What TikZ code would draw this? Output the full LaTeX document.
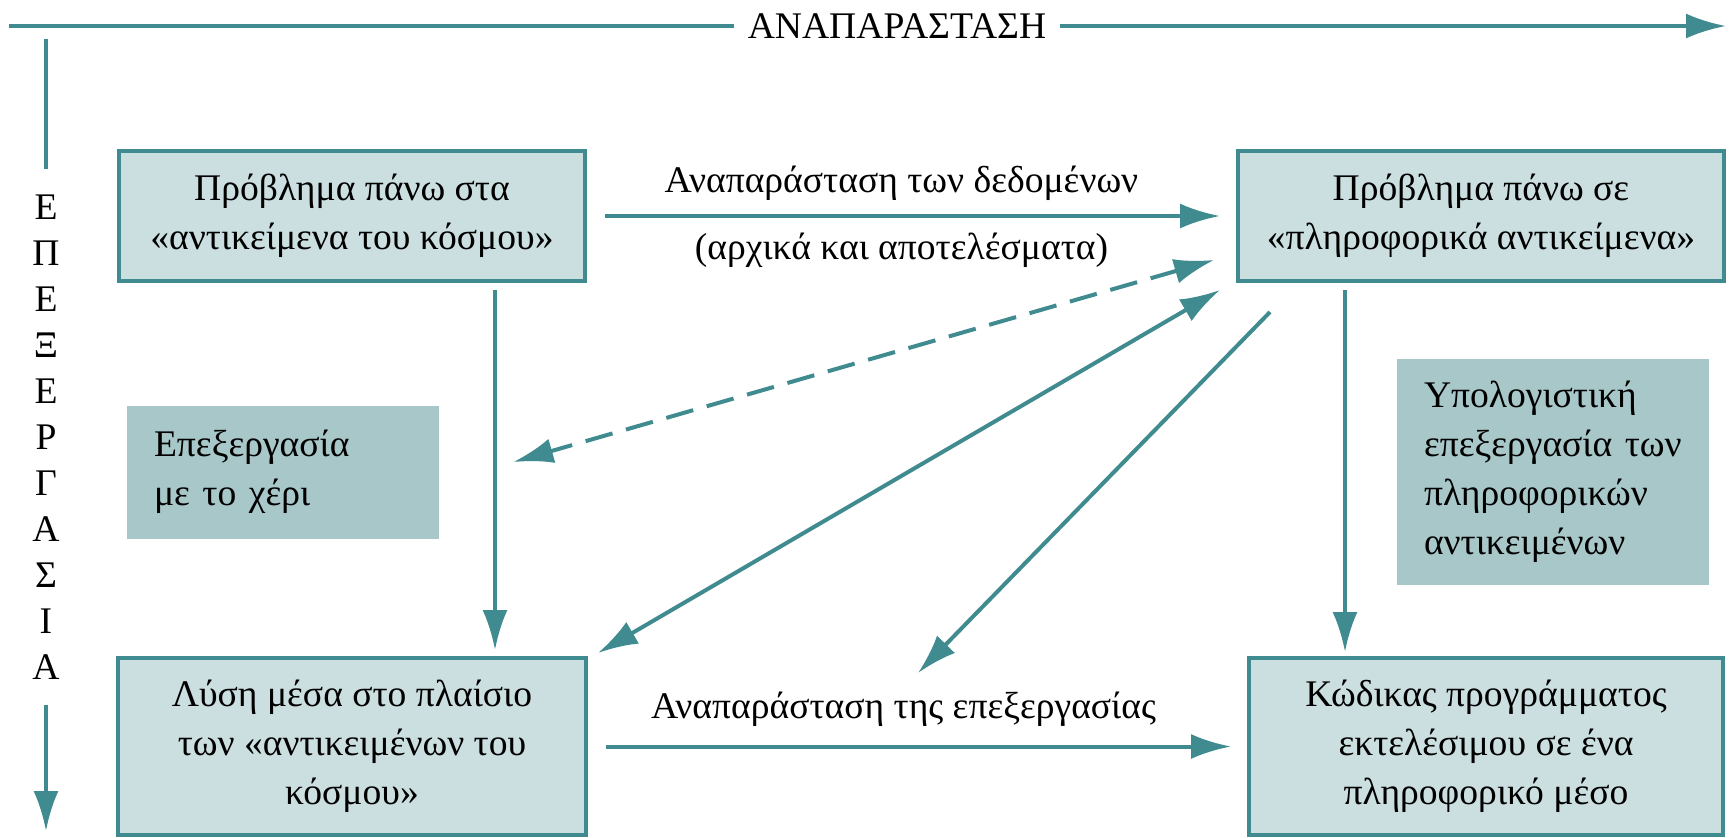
\documentclass[tikz,border=0pt]{standalone}
\usepackage{fontspec}
\setmainfont{Liberation Serif}
\usetikzlibrary{arrows.meta,positioning}
\definecolor{Teal}{HTML}{408B8F}
\definecolor{Pale}{HTML}{CCDFE0}
\definecolor{Sage}{HTML}{A8C7C9}

\tikzset{
  txt/.style={font=\fontsize{18.8pt}{24.5pt}\selectfont},
  probbox/.style={txt, draw=Teal, line width=2pt, fill=Pale, align=center, inner sep=0pt},
  notebox/.style={txt, fill=Sage, align=left, inner xsep=13.5pt, inner ysep=0pt},
  axis/.style={line width=2pt, draw=Teal},
  flow/.style={-{Latex[length=20pt,width=12.5pt]}, line width=2pt, draw=Teal},
  twoway/.style={{Latex[length=20pt,width=12.5pt]}-{Latex[length=20pt,width=12.5pt]}, line width=2pt, draw=Teal},
}

\begin{document}
\begin{tikzpicture}[x=0.5pt, y=-0.5pt]
    \useasboundingbox (0,0) rectangle (1731,837);
    % the two axes
    \coordinate (hs) at (9,26);
    \coordinate (he) at (1726,26);
    \node[txt, inner xsep=6.5pt] (repr) at (897,26) {ΑΝΑΠΑΡΑΣΤΑΣΗ};
    \draw[axis] (hs) -- (repr.west);
    \draw[flow] (repr.east) -- (he);
    \coordinate (vs) at (46,39);
    \coordinate (ve) at (46,831);
    \node[font=\fontsize{18.8pt}{23pt}\selectfont, align=center, inner ysep=12.5pt] (proc) at (46,437) {Ε\\Π\\Ε\\Ξ\\Ε\\Ρ\\Γ\\Α\\Σ\\Ι\\Α};
    \draw[axis] (vs) -- (proc.north);
    \draw[flow] (proc.south) -- (ve);

    % boxes
    \node[probbox, minimum width=233pt, minimum height=65pt] (world) at (352,216) {
      Πρόβλημα πάνω στα\\«αντικείμενα του κόσμου»
    };
    \node[probbox, minimum width=243pt, minimum height=65pt, right=324.5pt of world] (info) {
      Πρόβλημα πάνω σε\\«πληροφορικά αντικείμενα»
    };
    \node[probbox, minimum width=234pt, minimum height=88.5pt, below=186.5pt of world] (sol) {
      Λύση μέσα στο πλαίσιο\\των «αντικειμένων του\\κόσμου»
    };
    \node[probbox, minimum width=237pt, minimum height=88.5pt, right=329.5pt of sol] (code) {
      Κώδικας προγράμματος\\εκτελέσιμου σε ένα\\πληροφορικό μέσο
    };
    \node[notebox, text width=129pt, minimum height=66.5pt] (manual) at (283,472) {
      Επεξεργασία\\με το χέρι
    };
    \node[notebox, text width=129pt, minimum height=113pt] (comp) at (1553,472) {
      Υπολογιστική\\επεξεργασία των\\πληροφορικών\\αντικειμένων
    };

    % connectors
    \coordinate (wdrop) at ([xshift=71.5pt]world.south);
    \coordinate (idrop) at ([xshift=-68pt]info.south);
    \draw[flow, shorten <=9pt, shorten >=8pt] (world) -- node[txt, above=3.5pt, xshift=-5pt] {Αναπαράσταση των δεδομένων} node[txt, below=4pt, xshift=-5pt] {(αρχικά και αποτελέσματα)} (info);
    \draw[flow, shorten <=3.5pt, shorten >=3pt] (wdrop) -- (wdrop |- sol.north);
    \draw[flow, shorten <=3.5pt, shorten >=2pt] (idrop) -- (idrop |- code.north);
    \draw[twoway, dash pattern=on 14pt off 7pt] ([xshift=-11pt,yshift=-22pt]info.west) -- ([xshift=37pt,yshift=5pt]manual.east);
    \draw[twoway] ([xshift=-8pt,yshift=-3.5pt]info.south west) -- ([xshift=5pt,yshift=1.5pt]sol.north east);
    \draw[flow] ([xshift=17pt,yshift=-14.5pt]info.south west) -- ([xshift=165pt,yshift=-8.5pt]sol.north east);
    \draw[flow, shorten <=9pt, shorten >=8pt] (sol) -- node[txt, above=5.5pt, xshift=-7pt] {Αναπαράσταση της επεξεργασίας} (code);
\end{tikzpicture}
\end{document}
